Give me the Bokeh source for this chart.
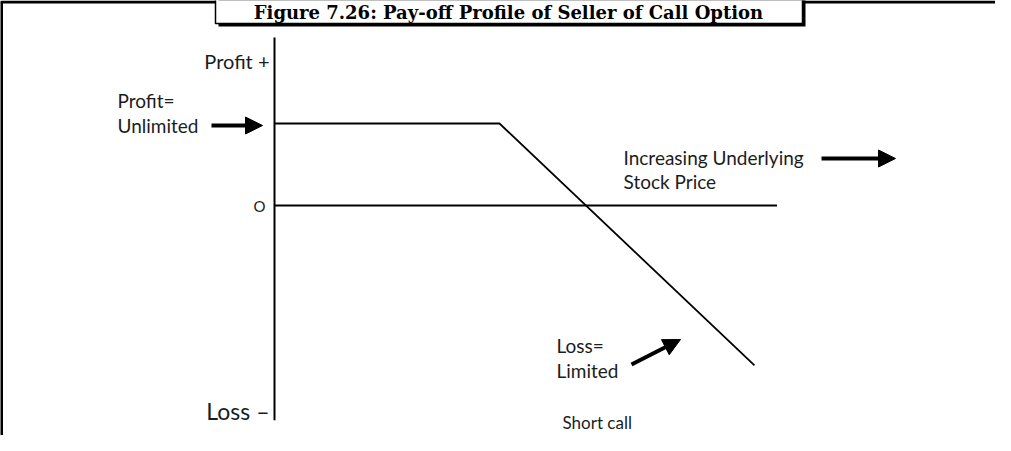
from bokeh.plotting import figure
from bokeh.models import Range1d, Arrow, NormalHead
from bokeh.core.properties import value
from bokeh.embed import file_html
from bokeh.resources import INLINE

# ---- data (profit units vs. stock price units) ----
stock_price = [0.0, 4.5, 9.6]          # underlying price points
short_call_payoff = [1.0, 1.0, -1.95]  # payoff of the call writer
zero_line_x = [0.0, 10.05]
zero_line_y = [0.0, 0.0]
axis_x = [0.0, 0.0]
axis_y = [2.05, -2.62]

title_text = "Figure 7.26: Pay-off Profile of Seller of Call Option"
profit_label = "Profit +"
loss_label = "Loss \u2013"
origin_label = "O"
profit_note = ["Profit=", "Unlimited"]
loss_note = ["Loss=", "Limited"]
price_note = ["Increasing Underlying", "Stock Price"]
chart_caption = "Short call"

W, H = 995, 435
OX, OY, SX, SY = 274, 205, 50.0, 82.0  # pixel position of origin and scale


def X(px):
    return (px - OX) / SX


def Y(py):
    return (OY - py) / SY


p = figure(width=W, height=H, output_backend="svg", toolbar_location=None,
           x_range=Range1d(X(0), X(W)), y_range=Range1d(Y(H), Y(0)),
           x_axis_type=None, y_axis_type=None, min_border=0)
p.xgrid.visible = False
p.ygrid.visible = False
p.outline_line_color = None
p.background_fill_color = "white"

FONT = value("Lato")
INK = "#1c1c1c"

# frame lines
p.line([X(1), X(1)], [Y(1), Y(H)], line_color="black", line_width=3)
p.line([X(0), X(215)], [Y(1.5), Y(1.5)], line_color="black", line_width=3)
p.line([X(802), X(W)], [Y(1.5), Y(1.5)], line_color="black", line_width=3)

# title box with shadow
p.quad(left=[X(218)], right=[X(805)], top=[Y(-5)], bottom=[Y(26)],
       fill_color="black", line_color=None)
p.quad(left=[X(215)], right=[X(802)], top=[Y(-5)], bottom=[Y(23)],
       fill_color="white", line_color="black", line_width=1.5)
p.text(x=[X(508)], y=[Y(12)], text=[title_text], text_font=value("DejaVu Serif"),
       text_font_style="bold", text_font_size="18px", text_align="center",
       text_baseline="middle", text_color="black")

# axes & payoff
p.line(axis_x, axis_y, line_color="black", line_width=2)
p.line(zero_line_x, zero_line_y, line_color="black", line_width=1.8)
p.line(stock_price, short_call_payoff, line_color="black", line_width=1.8)

# labels
p.text(x=[X(269)], y=[Y(60)], text=[profit_label], text_font=FONT, text_font_size="20px",
       text_align="right", text_baseline="middle", text_color=INK)
p.text(x=[X(269)], y=[Y(410)], text=[loss_label], text_font=FONT, text_font_size="23px",
       text_align="right", text_baseline="middle", text_color=INK)
p.text(x=[X(259)], y=[Y(205)], text=[origin_label], text_font=FONT, text_font_size="15px",
       text_align="center", text_baseline="middle", text_color=INK)
p.text(x=[X(117)] * 2, y=[Y(100), Y(125)], text=profit_note, text_font=FONT,
       text_font_size="19px", text_align="left", text_baseline="middle", text_color=INK)
p.text(x=[X(623)] * 2, y=[Y(157), Y(181)], text=price_note, text_font=FONT,
       text_font_size="19px", text_align="left", text_baseline="middle", text_color=INK)
p.text(x=[X(556)] * 2, y=[Y(345), Y(370)], text=loss_note, text_font=FONT,
       text_font_size="19px", text_align="left", text_baseline="middle", text_color=INK)
p.text(x=[X(562)], y=[Y(422)], text=[chart_caption], text_font=FONT, text_font_size="17px",
       text_align="left", text_baseline="middle", text_color=INK)

# arrows
for (x0, y0, x1, y1) in [(211, 125, 262, 125), (821, 158, 895, 158), (631, 364, 680, 339)]:
    p.add_layout(Arrow(end=NormalHead(size=17, fill_color="black", line_color="black"),
                       x_start=X(x0), y_start=Y(y0), x_end=X(x1), y_end=Y(y1),
                       line_width=4, line_color="black"))

open("out.html", "w").write(file_html(p, INLINE))
